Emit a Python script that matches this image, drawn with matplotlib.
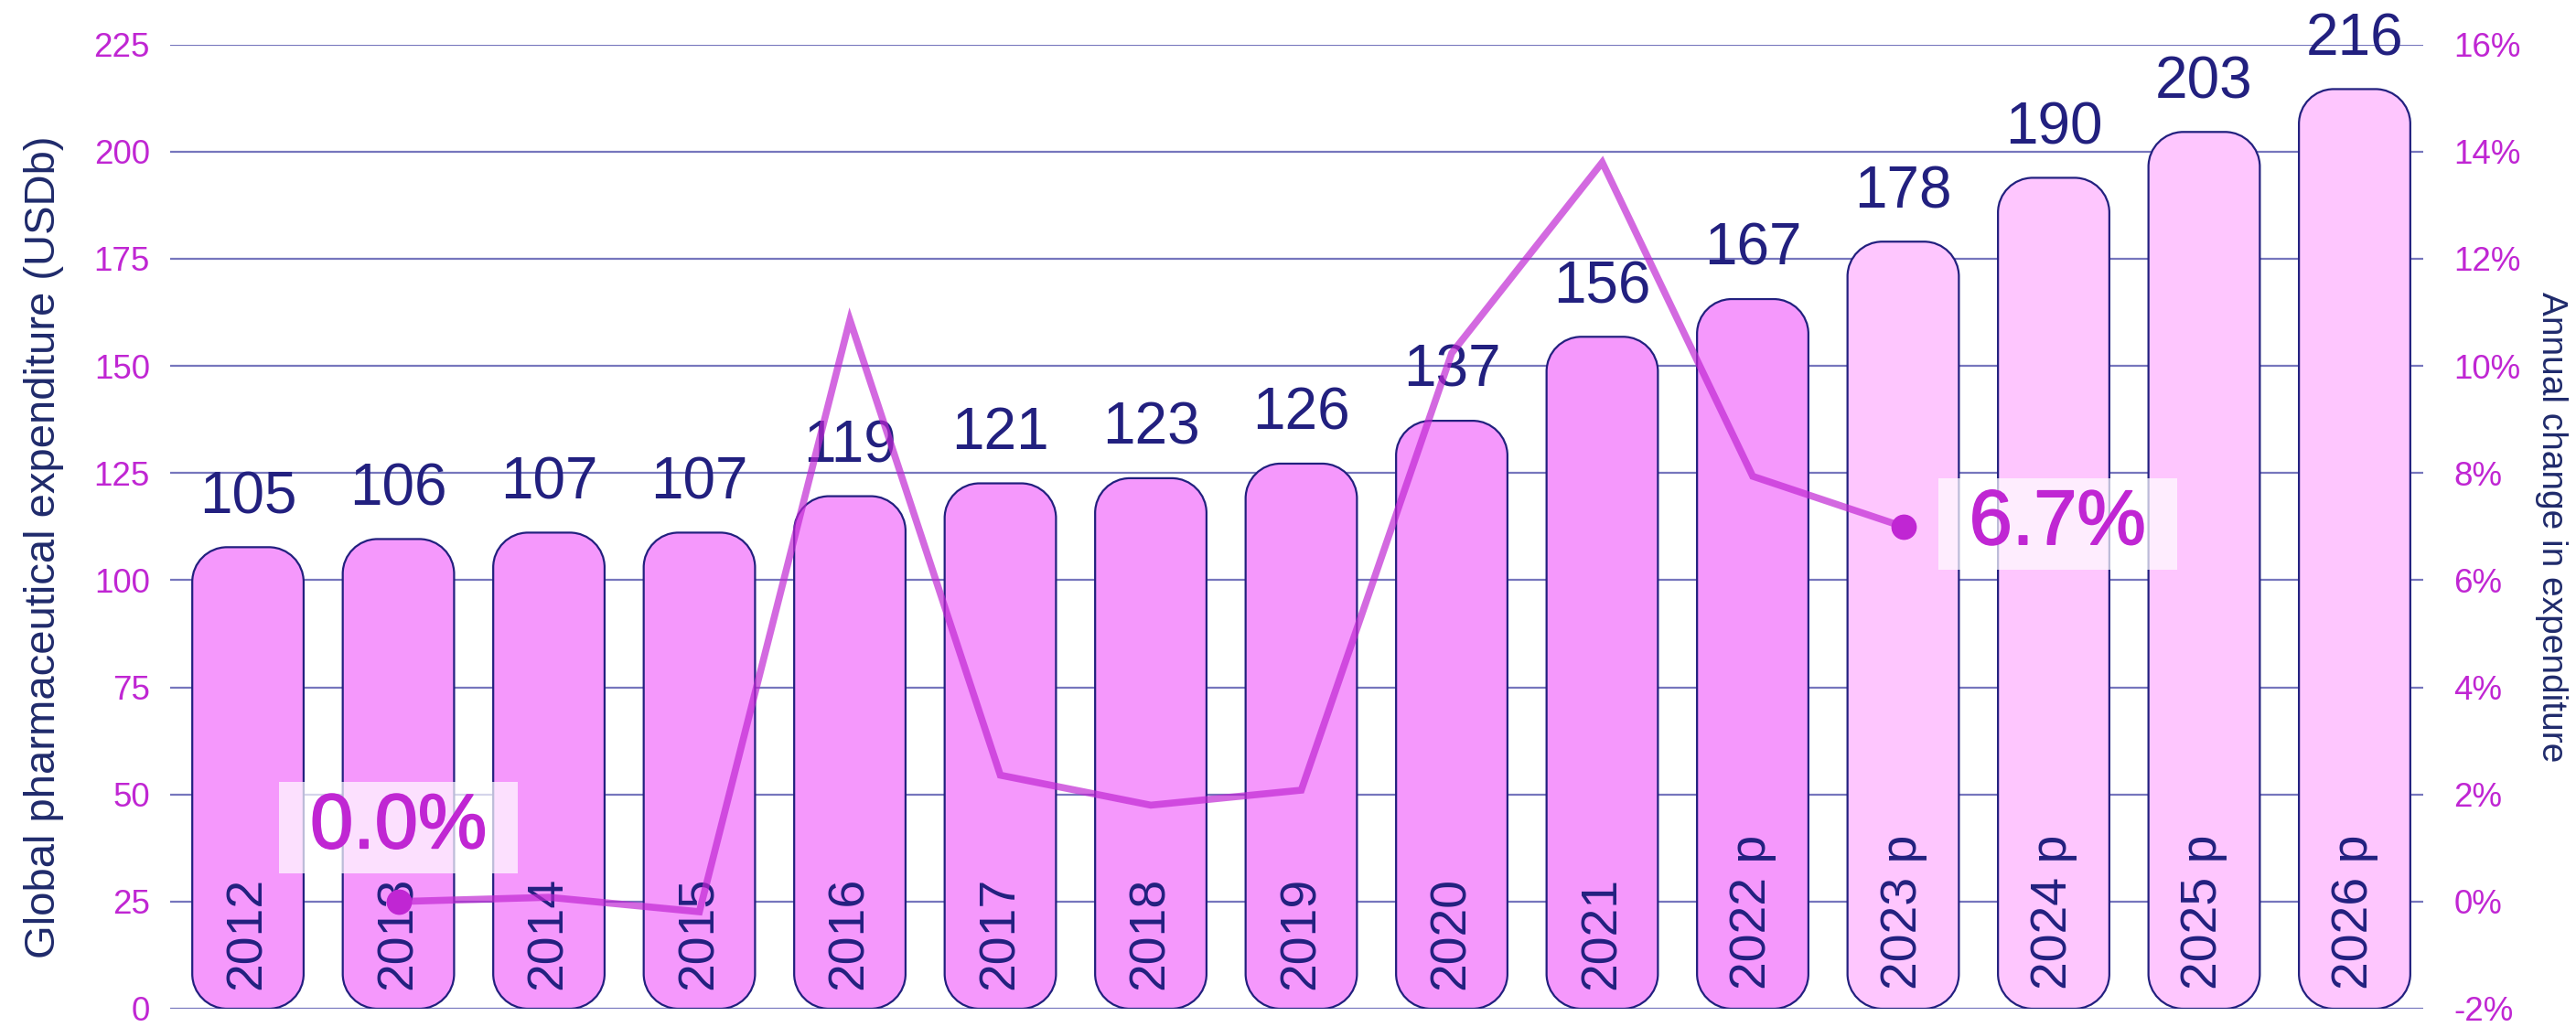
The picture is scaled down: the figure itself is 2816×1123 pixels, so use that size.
import numpy as np
import matplotlib.pyplot as plt
from matplotlib.path import Path
from matplotlib.patches import PathPatch
import matplotlib.patheffects as pe

plt.rcParams['font.family'] = ['Liberation Sans', 'DejaVu Sans']

years = ['2012', '2013', '2014', '2015', '2016', '2017', '2018', '2019', '2020',
         '2021', '2022 p', '2023 p', '2024 p', '2025 p', '2026 p']
spend_labels = [105, 106, 107, 107, 119, 121, 123, 126, 137, 156, 167, 178, 190, 203, 216]
# bar heights as drawn in the chart (they don't quite match the printed labels)
bar_heights = [107.7, 109.6, 111.1, 111.1, 119.6, 122.6, 123.8, 127.2, 137.2, 156.8,
               165.6, 179.0, 193.9, 204.6, 214.6]
projected = [False] * 11 + [True] * 4

# annual change, 2013 .. 2023
change = [0.0, 0.08, -0.19, 10.86, 2.36, 1.8, 2.08, 10.24, 13.8, 7.94, 7.0]

navy = '#22207f'
magenta = '#c026d3'
grid_c = '#7676bd'

W, H = 2816, 1123
fig = plt.figure(figsize=(W / 100, H / 100), dpi=100)
ax = fig.add_axes([186 / W, 1 - 1103 / H, (2649 - 186) / W, (1103 - 48.7) / H])

x = np.arange(len(years))
ax.set_xlim(-0.517, 14.456)
ax.set_ylim(0, 225)

# pixels per data unit, used to get circular corners
px_x = (2649 - 186) / (14.456 + 0.517)
px_y = (1103 - 48.7) / 225


def rounded_bar(x0, w, h, r_px):
    rx = r_px / px_x
    ry = r_px / px_y
    k = 0.5523
    x1 = x0 + w
    verts = [(x0 + rx, 0), (x1 - rx, 0),
             (x1 - rx + k * rx, 0), (x1, ry - k * ry), (x1, ry),
             (x1, h - ry),
             (x1, h - ry + k * ry), (x1 - rx + k * rx, h), (x1 - rx, h),
             (x0 + rx, h),
             (x0 + rx - k * rx, h), (x0, h - ry + k * ry), (x0, h - ry),
             (x0, ry),
             (x0, ry - k * ry), (x0 + rx - k * rx, 0), (x0 + rx, 0),
             (x0 + rx, 0)]
    codes = ([Path.MOVETO, Path.LINETO] + [Path.CURVE4] * 3 + [Path.LINETO]
             + [Path.CURVE4] * 3 + [Path.LINETO] + [Path.CURVE4] * 3
             + [Path.LINETO] + [Path.CURVE4] * 3 + [Path.CLOSEPOLY])
    return Path(verts, codes)


bars = ax.bar(x, bar_heights, width=0.74, color='none', edgecolor='none')
for b, p in zip(bars, projected):
    fc = '#fec6fe' if p else '#f598fc'
    ax.add_patch(PathPatch(rounded_bar(b.get_x(), b.get_width(), b.get_height(), 38),
                           fc=fc, ec=navy, lw=1.6, zorder=2))

for xi, h, v, yr in zip(x, bar_heights, spend_labels, years):
    ax.annotate(str(v), (xi, h), xytext=(0, 39), textcoords='offset points',
                ha='center', va='center', fontsize=46, color=navy)
    ax.text(xi, 4.5, yr, rotation=90, ha='center', va='bottom', fontsize=40,
            color=navy, zorder=3)

ax.set_yticks(range(0, 226, 25))
ax.grid(axis='y', color=grid_c, lw=1.6)
ax.set_axisbelow(True)
ax.set_xticks([])
ax.tick_params(axis='y', length=0, pad=16, labelsize=26.5, labelcolor=magenta)
for s in ax.spines.values():
    s.set_visible(False)

ax2 = ax.twinx()
ax2.set_ylim(-2, 16)
ax2.set_yticks(range(-2, 17, 2))
ax2.set_yticklabels([f'{t}%' for t in range(-2, 17, 2)])
ax2.tick_params(axis='y', length=0, pad=24, labelsize=26.5, labelcolor=magenta)
for s in ax2.spines.values():
    s.set_visible(False)

cx = x[1:12]
ax2.plot(cx, change, color=magenta, alpha=0.69, lw=5.5, solid_joinstyle='miter')
ax2.plot([cx[0], cx[-1]], [change[0], change[-1]], 'o', color=magenta, ms=19)

box = dict(boxstyle='square,pad=0.12', fc='white', ec='none', alpha=0.7)
thick = [pe.withStroke(linewidth=1.3, foreground=magenta)]
ax2.annotate(' 0.0% ', (cx[0], change[0]), xytext=(0, 58), textcoords='offset points',
             ha='center', va='center', fontsize=61, color=magenta, bbox=box,
             path_effects=thick)
ax2.annotate(' 6.7% ', (cx[-1], change[-1]), xytext=(35, 2), textcoords='offset points',
             ha='left', va='center', fontsize=61, color=magenta, bbox=box,
             path_effects=thick)

fig.text(48 / W, 1 - 598 / H, 'Global pharmaceutical expenditure (USDb)', rotation=90,
         ha='center', va='center', fontsize=34, color='#1f2a6b')
fig.text(2789 / W, 1 - 576 / H, 'Annual change in expenditure', rotation=270,
         ha='center', va='center', fontsize=28, color='#1f2a6b')

fig.savefig('out.png', dpi=100)
